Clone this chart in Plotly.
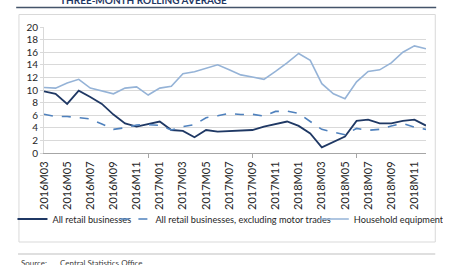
import plotly.graph_objects as go

months = ["2016M03","2016M04","2016M05","2016M06","2016M07","2016M08","2016M09","2016M10","2016M11","2016M12",
          "2017M01","2017M02","2017M03","2017M04","2017M05","2017M06","2017M07","2017M08","2017M09","2017M10",
          "2017M11","2017M12","2018M01","2018M02","2018M03","2018M04","2018M05","2018M06","2018M07","2018M08",
          "2018M09","2018M10","2018M11","2018M12"]

all_retail = [9.8, 9.4, 7.8, 9.9, 8.9, 7.8, 6.1, 4.7, 4.2, 4.6,
              5.0, 3.65, 3.5, 2.5, 3.65, 3.4, 3.45, 3.5, 3.65, 4.2,
              4.6, 5.0, 4.3, 3.1, 0.9, 1.8, 2.6, 5.1, 5.3, 4.7,
              4.7, 5.1, 5.3, 4.35]

excl_motor = [6.15, 5.8, 5.8, 5.6, 5.4, 4.6, 3.75, 4.0, 4.45, 4.5,
              4.4, 3.65, 4.2, 4.5, 5.6, 5.9, 6.3, 6.1, 6.15, 5.85,
              6.6, 6.65, 6.3, 5.0, 3.75, 3.3, 2.9, 3.9, 3.6, 3.75,
              4.3, 4.7, 4.1, 3.75]

household = [10.4, 10.3, 11.1, 11.7, 10.3, 9.8, 9.4, 10.3, 10.5, 9.2,
             10.3, 10.6, 12.6, 12.9, 13.4, 14.0, 13.2, 12.4, 12.05, 11.7,
             12.95, 14.3, 15.8, 14.7, 11.0, 9.4, 8.6, 11.3, 12.95, 13.2,
             14.3, 16.0, 17.0, 16.55]

series_names = ["All retail businesses",
                "All retail businesses, excluding motor trades",
                "Household equipment"]

x_idx = list(range(len(months)))
tick_idx = x_idx[::2]
tick_text = months[::2]

FONT = "Lato"
fig = go.Figure()
fig.add_trace(go.Scatter(x=x_idx, y=all_retail, mode="lines", name=series_names[0], legend="legend",
                         line=dict(color="#1F3864", width=1.8)))
fig.add_trace(go.Scatter(x=x_idx, y=excl_motor, mode="lines", name=series_names[1], legend="legend2",
                         line=dict(color="#4F81BD", width=1.6, dash="dash")))
fig.add_trace(go.Scatter(x=x_idx, y=household, mode="lines", name=series_names[2], legend="legend3",
                         line=dict(color="#95B3D7", width=1.6)))

W, H = 455, 265
L, R, T, B = 30, 13, 27, 112
pw, ph = W - L - R, H - T - B

def px(xp):
    return (xp - L) / pw

def py(yp):
    return (H - B - yp) / ph

def leg(x0, **kw):
    d = dict(orientation="h", x=px(x0), y=py(219), xanchor="left", yanchor="middle",
             font=dict(family=FONT, size=9.2, color="#262626"),
             itemwidth=30, bgcolor="rgba(0,0,0,0)", borderwidth=0)
    d.update(kw)
    return d

fig.update_layout(
    width=W, height=H,
    margin=dict(l=L, r=R, t=T, b=B, pad=0),
    paper_bgcolor="white", plot_bgcolor="white",
    font=dict(family=FONT, size=9, color="#262626"),
    showlegend=True,
    legend=leg(-4), legend2=leg(107), legend3=leg(321, entrywidth=84),
    xaxis=dict(range=[0, len(months) - 1], tickmode="array", tickvals=tick_idx, ticktext=tick_text,
               tickangle=-90, tickfont=dict(family=FONT, size=11, color="#262626"),
               showgrid=False, showline=True, linecolor="#A6A6A6", linewidth=1,
               ticks="", zeroline=False, ticklabelstandoff=3,
               minor=dict(tickmode="array", tickvals=[9, 18, 27], ticks="outside", ticklen=4,
                          tickcolor="#A6A6A6", showgrid=False)),
    yaxis=dict(range=[0, 20], dtick=2, tick0=0, showgrid=True, gridcolor="#D9D9D9", gridwidth=1,
               showline=True, linecolor="#D9D9D9", linewidth=1, ticks="outside", ticklen=3,
               tickcolor="#D9D9D9", zeroline=False,
               tickfont=dict(family=FONT, size=10, color="#262626")),
)

# title (partially cut at top)
fig.add_annotation(text="<b>THREE-MONTH ROLLING AVERAGE</b>", xref="paper", yref="paper",
                   x=px(137), y=py(0), xanchor="center", yanchor="middle", showarrow=False,
                   font=dict(family=FONT, size=10, color="#1F3864"))
# rule under title
fig.add_shape(type="line", xref="paper", yref="paper", x0=px(0), x1=px(453), y0=py(7.5), y1=py(7.5),
              line=dict(color="#44546A", width=1.5))
# chart frame
fig.add_shape(type="rect", xref="paper", yref="paper", x0=px(3), x1=px(452), y0=py(242), y1=py(14.5),
              line=dict(color="#D9D9D9", width=1), layer="below")
# rule above source
fig.add_shape(type="line", xref="paper", yref="paper", x0=px(2), x1=px(452), y0=py(254), y1=py(254),
              line=dict(color="#BFBFBF", width=1))
fig.add_annotation(text="Source:", xref="paper", yref="paper", x=px(3), y=py(263),
                   xanchor="left", yanchor="middle", showarrow=False,
                   font=dict(family=FONT, size=8, color="#404040"))
fig.add_annotation(text="Central Statistics Office", xref="paper", yref="paper", x=px(45), y=py(263),
                   xanchor="left", yanchor="middle", showarrow=False,
                   font=dict(family=FONT, size=8, color="#404040"))

fig.write_html("out.html")
